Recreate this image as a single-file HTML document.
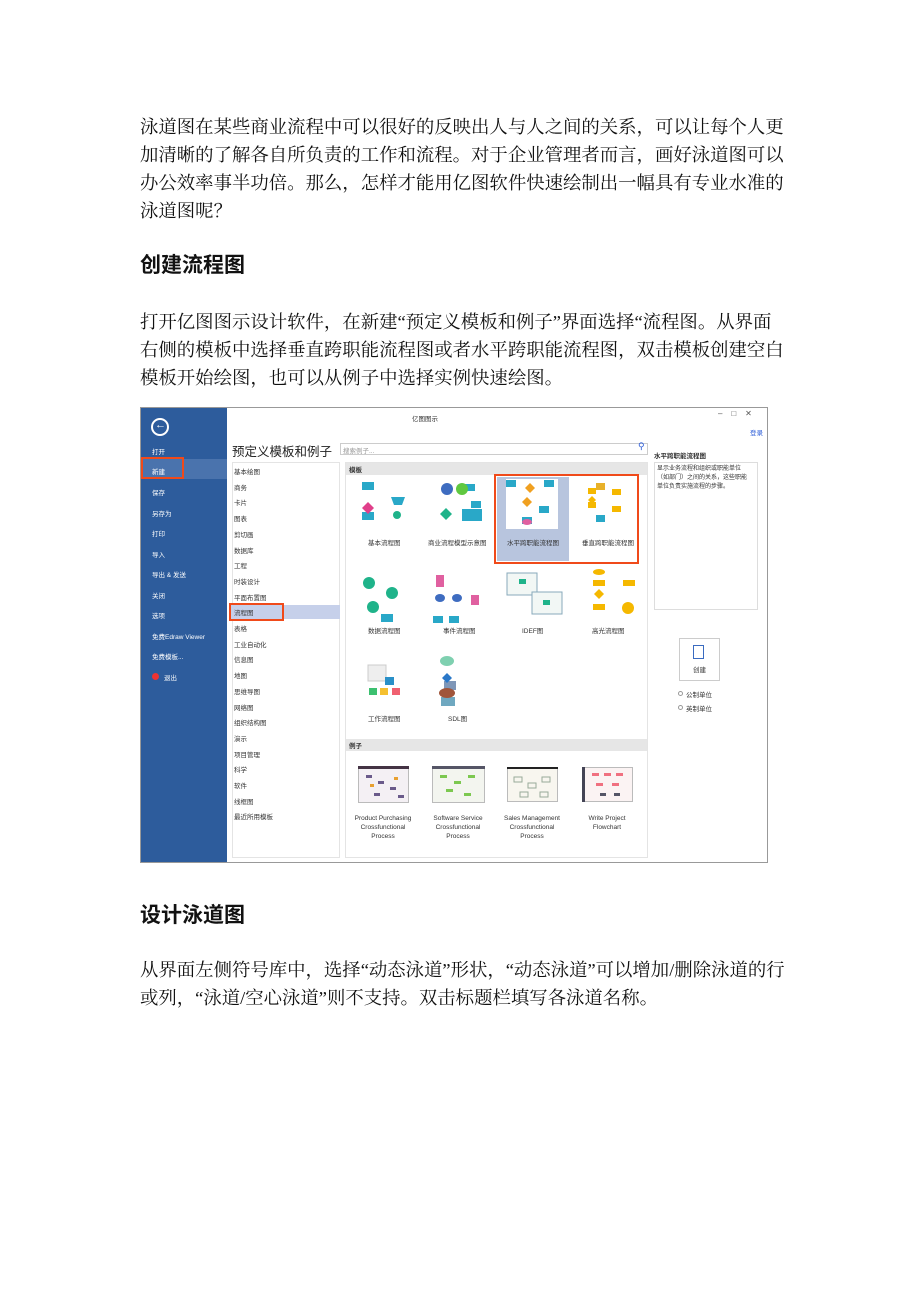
<!DOCTYPE html>
<html><head><meta charset="utf-8">
<style>
*{margin:0;padding:0;box-sizing:border-box}
body{width:920px;height:1302px;background:#fff;position:relative;font-family:"Liberation Serif","Noto Serif CJK SC","Noto Sans CJK SC",serif;color:#111;overflow:hidden}
.p{position:absolute;left:140px;font-size:18.4px;line-height:28px;white-space:nowrap}
.h{position:absolute;left:140px;font-size:21px;font-weight:bold;font-family:"Liberation Sans","Noto Sans CJK SC",sans-serif}
.a{position:absolute;white-space:nowrap;font-family:"Liberation Sans","Noto Sans CJK SC",sans-serif}
.s{font-size:6.5px;color:#333}
.w{color:#fff;font-size:6.5px}
.b{position:absolute}
</style></head><body>
<div class="p" style="top:113px">泳道图在某些商业流程中可以很好的反映出人与人之间的关系，可以让每个人更<br>加清晰的了解各自所负责的工作和流程。对于企业管理者而言，画好泳道图可以<br>办公效率事半功倍。那么，怎样才能用亿图软件快速绘制出一幅具有专业水准的<br>泳道图呢？</div>
<div class="h" style="top:249px">创建流程图</div>
<div class="p" style="top:308px">打开亿图图示设计软件，在新建“预定义模板和例子”界面选择“流程图。从界面<br>右侧的模板中选择垂直跨职能流程图或者水平跨职能流程图，双击模板创建空白<br>模板开始绘图，也可以从例子中选择实例快速绘图。</div>
<div class="h" style="top:899px">设计泳道图</div>
<div class="p" style="top:956px">从界面左侧符号库中，选择“动态泳道”形状，“动态泳道”可以增加/删除泳道的行<br>或列，“泳道/空心泳道”则不支持。双击标题栏填写各泳道名称。</div>

<!-- screenshot -->
<div class="b" style="left:140px;top:407px;width:628px;height:456px;border:1px solid #999;background:#fff"></div>
<div class="b" style="left:141px;top:408px;width:86px;height:454px;background:#2d5c9c"></div>
<div class="b" style="left:151px;top:418px;width:18px;height:18px;border:2px solid #fff;border-radius:50%"></div>
<div class="a w" style="left:155px;top:419px;font-size:11px">←</div>
<div class="b" style="left:141px;top:459px;width:86px;height:20px;background:#4a73ad"></div>
<div class="b" style="left:141px;top:457px;width:43px;height:22px;border:2px solid #f04a1a"></div>
<div class="a w" style="left:152px;top:446px">打开</div>
<div class="a w" style="left:152px;top:466px">新建</div>
<div class="a w" style="left:152px;top:487px">保存</div>
<div class="a w" style="left:152px;top:508px">另存为</div>
<div class="a w" style="left:152px;top:528px">打印</div>
<div class="a w" style="left:152px;top:549px">导入</div>
<div class="a w" style="left:152px;top:569px">导出 &amp; 发送</div>
<div class="a w" style="left:152px;top:590px">关闭</div>
<div class="a w" style="left:152px;top:610px">选项</div>
<div class="a w" style="left:152px;top:631px">免费Edraw Viewer</div>
<div class="a w" style="left:152px;top:651px">免费模板...</div>
<div class="b" style="left:152px;top:673px;width:7px;height:7px;border-radius:50%;background:#e33"></div>
<div class="a w" style="left:164px;top:672px">退出</div>
<div class="a s" style="left:412px;top:413px">亿图图示</div>
<div class="a s" style="left:718px;top:409px;font-size:8px;color:#555">–&nbsp;&nbsp;&nbsp;&nbsp;□&nbsp;&nbsp;&nbsp;&nbsp;✕</div>
<div class="a s" style="left:750px;top:427px;color:#2a5bd7">登录</div>
<div class="a" style="left:232px;top:441px;font-size:12.5px;color:#222">预定义模板和例子</div>
<div class="b" style="left:340px;top:443px;width:308px;height:12px;border:1px solid #ccc"></div>
<div class="a s" style="left:343px;top:445px;color:#999">搜索例子...</div>
<div class="a" style="left:638px;top:441px;font-size:9px;color:#2a5bd7">⚲</div>
<div class="b" style="left:232px;top:462px;width:108px;height:396px;border:1px solid #e4e4e4"></div>
<div class="b" style="left:230px;top:605px;width:110px;height:14px;background:#c6d0ea"></div>
<div class="b" style="left:229px;top:603px;width:55px;height:18px;border:2px solid #f04a1a"></div>
<div class="a s" style="left:234px;top:465px;line-height:15.7px">基本绘图<br>商务<br>卡片<br>图表<br>剪切画<br>数据库<br>工程<br>时装设计<br>平面布置图<br>流程图<br>表格<br>工业自动化<br>信息图<br>地图<br>思维导图<br>网络图<br>组织结构图<br>演示<br>项目管理<br>科学<br>软件<br>线框图<br>最近所用模板</div>
<div class="b" style="left:345px;top:462px;width:303px;height:396px;border:1px solid #e4e4e4"></div>
<div class="b" style="left:346px;top:463px;width:301px;height:12px;background:#e6e6e6"></div>
<div class="a s" style="left:349px;top:464px;font-weight:bold">模板</div>
<div class="b" style="left:346px;top:739px;width:301px;height:12px;background:#e6e6e6"></div>
<div class="a s" style="left:349px;top:740px;font-weight:bold">例子</div>
<div class="b" style="left:497px;top:477px;width:72px;height:84px;background:#b8c5de"></div>
<div class="b" style="left:506px;top:479px;width:52px;height:50px;background:#fff"></div>
<div class="b" style="left:494px;top:474px;width:145px;height:90px;border:2.5px solid #f04a1a"></div>
<!-- icons -->
<svg class="b" style="left:345px;top:475px" width="303" height="250">
<g fill="#29a8c8">
<rect x="17" y="7" width="12" height="8"/><rect x="17" y="37" width="12" height="8"/><polygon points="46,22 60,22 57,30 49,30"/><circle cx="52" cy="40" r="4" fill="#1fb38a"/>
<rect x="117" y="34" width="20" height="12"/><rect x="120" y="9" width="10" height="7"/><rect x="126" y="26" width="10" height="7"/><rect x="161" y="5" width="10" height="7"/><rect x="199" y="5" width="10" height="7"/><rect x="177" y="42" width="10" height="7"/><rect x="194" y="31" width="10" height="7"/><rect x="251" y="8" width="9" height="7" fill="#e8b12a"/><rect x="251" y="40" width="9" height="7"/>
<rect x="36" y="139" width="12" height="8"/><rect x="88" y="141" width="10" height="7"/><rect x="104" y="141" width="10" height="7"/>
<rect x="99" y="206" width="12" height="9" fill="#7f97b8"/><rect x="96" y="222" width="14" height="9" fill="#6fa8c0"/>
</g>
<polygon points="23,27 29,33 23,39 17,33" fill="#e03f8a"/>
<circle cx="102" cy="14" r="6" fill="#3e6cc0"/><circle cx="117" cy="14" r="6" fill="#5fc840"/><polygon points="101,33 107,39 101,45 95,39" fill="#1fb38a"/>
<polygon points="182,22 187,27 182,32 177,27" fill="#f0a020"/><polygon points="185,8 190,13 185,18 180,13" fill="#f0a020"/><ellipse cx="182" cy="47" rx="5" ry="3" fill="#e060a0"/>
<g fill="#f5b800"><rect x="243" y="13" width="8" height="6"/><rect x="243" y="27" width="8" height="6"/><rect x="267" y="14" width="9" height="6"/><rect x="267" y="31" width="9" height="6"/><polygon points="247,21 251,25 247,29 243,25"/></g>
<circle cx="24" cy="108" r="6" fill="#1fb38a"/><circle cx="47" cy="118" r="6" fill="#1fb38a"/><circle cx="28" cy="132" r="6" fill="#1fb38a"/>
<rect x="91" y="100" width="8" height="12" fill="#e060a0"/><ellipse cx="95" cy="123" rx="5" ry="4" fill="#3e6cc0"/><ellipse cx="112" cy="123" rx="5" ry="4" fill="#3e6cc0"/><rect x="126" y="120" width="8" height="10" fill="#e060a0"/>
<rect x="162" y="98" width="30" height="22" fill="#f2f7f5" stroke="#8ab" /><rect x="187" y="117" width="30" height="22" fill="#f2f7f5" stroke="#8ab"/><rect x="174" y="104" width="7" height="5" fill="#1fb38a"/><rect x="198" y="125" width="7" height="5" fill="#1fb38a"/>
<g fill="#f5b800"><ellipse cx="254" cy="97" rx="6" ry="3"/><rect x="248" y="105" width="12" height="6"/><rect x="278" y="105" width="12" height="6"/><polygon points="254,114 259,119 254,124 249,119"/><rect x="248" y="129" width="12" height="6"/><circle cx="283" cy="133" r="6"/></g>
<rect x="23" y="190" width="18" height="16" fill="#eee" stroke="#ccc"/><rect x="24" y="213" width="8" height="7" fill="#3cc070"/><rect x="35" y="213" width="8" height="7" fill="#f5c030"/><rect x="47" y="213" width="8" height="7" fill="#f06070"/><rect x="40" y="202" width="9" height="8" fill="#2a90c8"/>
<ellipse cx="102" cy="186" rx="7" ry="5" fill="#7fd0b0"/><polygon points="102,198 107,203 102,208 97,203" fill="#2a78c8"/><ellipse cx="102" cy="218" rx="8" ry="5" fill="#a0553a"/>
</svg>
<div class="a s" style="left:368px;top:537px">基本流程图</div>
<div class="a s" style="left:428px;top:537px">商业流程模型示意图</div>
<div class="a s" style="left:507px;top:537px">水平跨职能流程图</div>
<div class="a s" style="left:582px;top:537px">垂直跨职能流程图</div>
<div class="a s" style="left:368px;top:625px">数据流程图</div>
<div class="a s" style="left:443px;top:625px">事件流程图</div>
<div class="a s" style="left:522px;top:625px">IDEF图</div>
<div class="a s" style="left:592px;top:625px">高光流程图</div>
<div class="a s" style="left:368px;top:713px">工作流程图</div>
<div class="a s" style="left:448px;top:713px">SDL图</div>
<!-- examples -->
<svg class="b" style="left:356px;top:765px" width="280" height="40">
<g stroke="#bbb" fill="none"><rect x="2.5" y="1.5" width="50" height="36" fill="#f4f0f4"/><rect x="76.5" y="1.5" width="52" height="36" fill="#f3f5ef"/><rect x="151.5" y="2.5" width="50" height="34" fill="#f8f6ef"/><rect x="226.5" y="2.5" width="50" height="34" fill="#fbf3f3"/></g>
<rect x="2" y="1" width="51" height="3" fill="#434"/><rect x="76" y="1" width="53" height="3" fill="#556"/><rect x="151" y="2" width="51" height="2" fill="#222"/><rect x="226" y="2" width="3" height="35" fill="#445"/>
<g fill="#6a5a8a"><rect x="10" y="10" width="6" height="3"/><rect x="22" y="16" width="6" height="3"/><rect x="34" y="22" width="6" height="3"/><rect x="18" y="28" width="6" height="3"/><rect x="42" y="30" width="6" height="3"/></g>
<g fill="#e8a030"><rect x="14" y="19" width="4" height="3"/><rect x="38" y="12" width="4" height="3"/></g>
<g fill="#7cc850"><rect x="84" y="10" width="7" height="3"/><rect x="98" y="16" width="7" height="3"/><rect x="112" y="10" width="7" height="3"/><rect x="90" y="24" width="7" height="3"/><rect x="108" y="28" width="7" height="3"/></g>
<g stroke="#9a9" fill="none"><rect x="158" y="12" width="8" height="5"/><rect x="172" y="18" width="8" height="5"/><rect x="186" y="12" width="8" height="5"/><rect x="164" y="27" width="8" height="5"/><rect x="184" y="27" width="8" height="5"/></g>
<g fill="#f07080"><rect x="236" y="8" width="7" height="3"/><rect x="248" y="8" width="7" height="3"/><rect x="260" y="8" width="7" height="3"/><rect x="240" y="18" width="7" height="3"/><rect x="256" y="18" width="7" height="3"/></g>
<g fill="#556"><rect x="244" y="28" width="6" height="3"/><rect x="258" y="28" width="6" height="3"/></g>
</svg>
<div class="a s" style="left:352px;top:814px;text-align:center;width:62px;line-height:9px;white-space:normal">Product Purchasing Crossfunctional Process</div>
<div class="a s" style="left:427px;top:814px;text-align:center;width:62px;line-height:9px;white-space:normal">Software Service Crossfunctional Process</div>
<div class="a s" style="left:500px;top:814px;text-align:center;width:64px;line-height:9px;white-space:normal">Sales Management Crossfunctional Process</div>
<div class="a s" style="left:577px;top:814px;text-align:center;width:60px;line-height:9px;white-space:normal">Write Project Flowchart</div>
<!-- right panel -->
<div class="a s" style="left:654px;top:450px;font-weight:bold">水平跨职能流程图</div>
<div class="b" style="left:654px;top:462px;width:104px;height:148px;border:1px solid #ddd"></div>
<div class="a s" style="left:657px;top:465px;font-size:6px;line-height:9px">显示业务流程和组织或职能单位<br>（如部门）之间的关系，这些职能<br>单位负责实施流程的步骤。</div>
<div class="b" style="left:679px;top:638px;width:41px;height:43px;border:1px solid #ccc"></div>
<div class="b" style="left:693px;top:645px;width:11px;height:14px;border:1px solid #3a6bc0"></div>
<div class="a s" style="left:693px;top:664px">创建</div>
<div class="b" style="left:678px;top:691px;width:5px;height:5px;border:1px solid #999;border-radius:50%"></div>
<div class="a s" style="left:686px;top:689px">公制单位</div>
<div class="b" style="left:678px;top:705px;width:5px;height:5px;border:1px solid #999;border-radius:50%"></div>
<div class="a s" style="left:686px;top:703px">英制单位</div>
</body></html>
